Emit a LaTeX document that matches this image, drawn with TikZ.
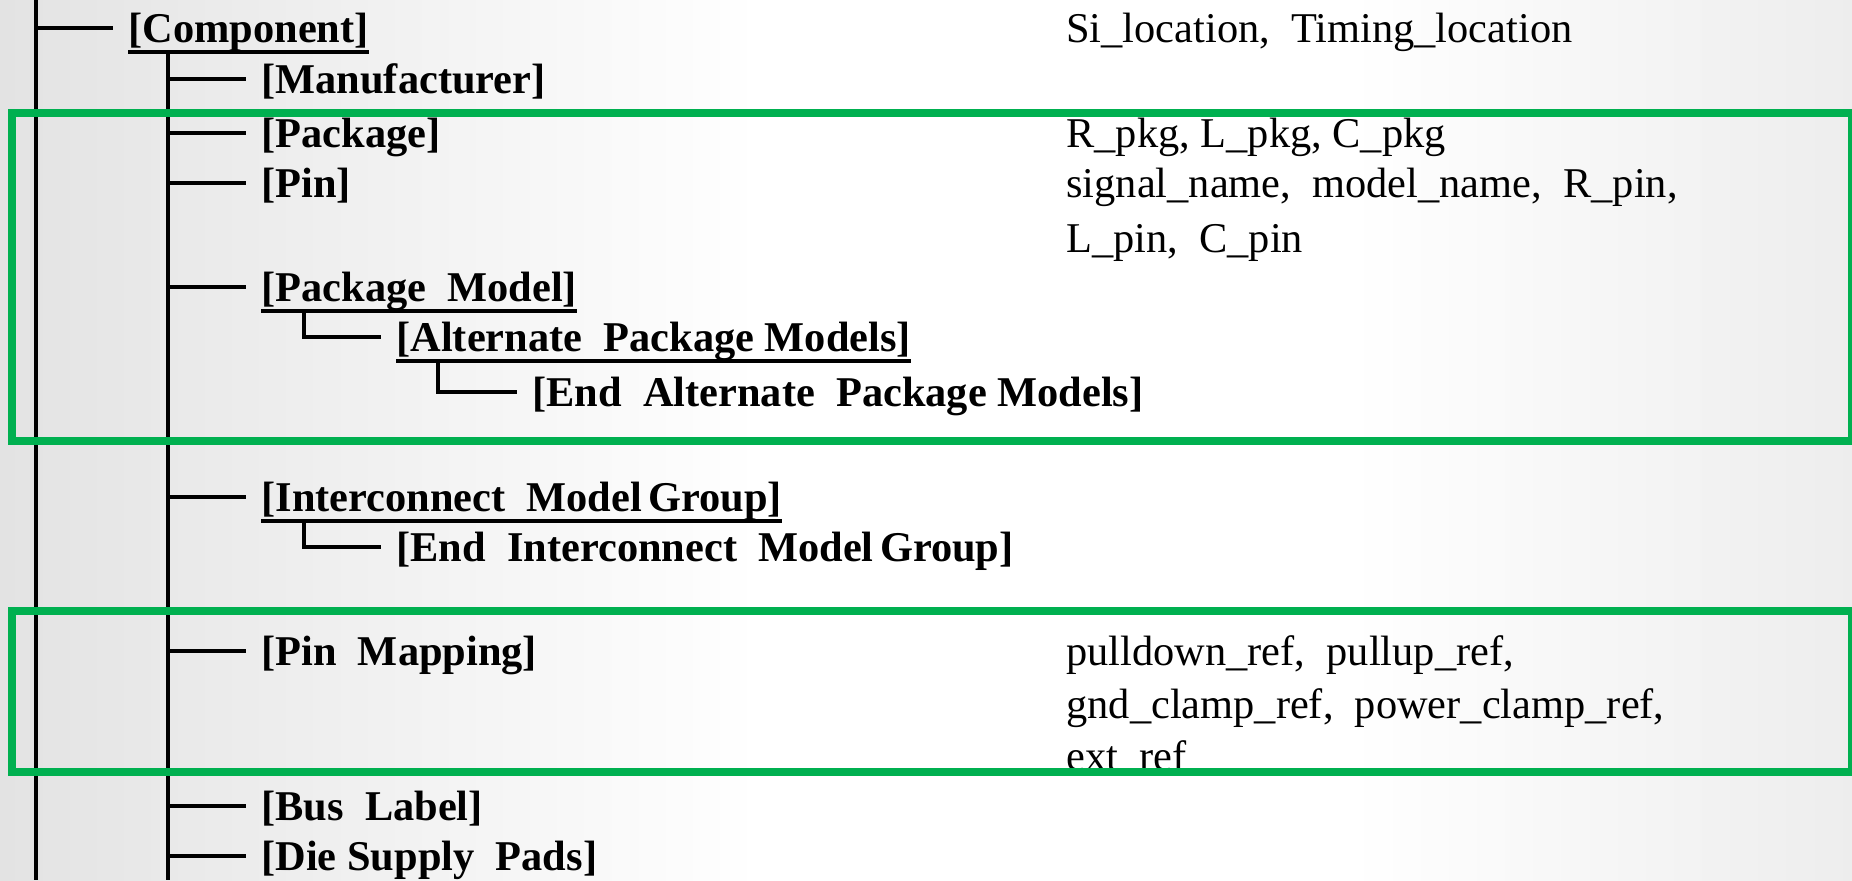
\documentclass[tikz,border=0pt]{standalone}
\usepackage{fontspec}
\setmainfont{Liberation Serif}
\usetikzlibrary{calc}
\definecolor{boxgreen}{RGB}{0,176,80}
\newcommand{\ws}{\hspace{0.5em}} % wide gap between words
\newcommand{\ns}{\hspace{0.15em}} % narrow gap between words

\begin{document}
\begin{tikzpicture}[x=0.5pt,y=-0.5pt,
    key/.style={anchor=west,inner sep=0pt,text height=14pt,text depth=0pt,
      font=\bfseries\fontsize{21.2pt}{26pt}\selectfont},
    attr/.style={anchor=west,inner sep=0pt,text height=14pt,text depth=0pt,
      font=\fontsize{21.2pt}{26pt}\selectfont},
    tree/.style={line width=2pt},
    branch/.style={line width=1.7pt,shorten >=7.5pt},
    uline/.style={line width=2pt},
    hilite/.style={draw=boxgreen,line width=4pt}]
	\useasboundingbox (0,0) rectangle (1852,880);

	%% Background, grey at the edges
	\shade[left color=gray!22,right color=white] (0,0) rectangle (760,880);
	\shade[left color=white,right color=gray!14] (1350,0) rectangle (1852,880);

	%% Spines of the tree (pixel coordinates, y downwards)
	\coordinate (S0) at (36,0); % outer spine top
	\coordinate (S0b) at (36,880); % outer spine bottom
	\coordinate (S1) at (168,54); % spine under [Component]
	\coordinate (S1b) at (168,880);
	\coordinate (H1) at (304,312); % hook under [Package Model]
	\coordinate (H2) at (438,362); % hook under [Alternate ...]
	\coordinate (H3) at (304,519); % hook under [Interconnect ...]

	%% Keywords
	\node[key] (comp) at (128,28) {[Component]};
	\node[key] (manu) at (261,79) {[Manufacturer]};
	\node[key] (pkg) at (261,133) {[Package]};
	\node[key] (pin) at (261,183) {[Pin]};
	\node[key] (pkgmod) at (261,287) {[Package\ws Model]};
	\node[key] (alt) at (396,337) {[Alternate\ws Package Models]};
	\node[key] (endalt) at (532,392) {[End\ws Alternate\ws Package Models]};
	\node[key] (icm) at (261,497) {[Interconnect\ws Model\ns Group]};
	\node[key] (endicm) at (396,547) {[End\ws Interconnect\ws Model\ns Group]};
	\node[key] (pmap) at (261,651) {[Pin\ws Mapping]};
	\node[key] (bus) at (261,806) {[Bus\ws Label]};
	\node[key] (die) at (261,856) {[Die Supply\ws Pads]};

	%% Parameters, right column
	\node[attr] (si) at (1066,28) {Si\_location,\ws Timing\_location};
	\node[attr] (rpkg) at (1066,133) {R\_pkg, L\_pkg, C\_pkg};
	\node[attr] (sig) at (1066,183) {signal\_name,\ws model\_name,\ws R\_pin,};
	\node[attr] (lpin) at (1066,238) {L\_pin,\ws C\_pin};
	\node[attr] (pdown) at (1066,651) {pulldown\_ref,\ws pullup\_ref,};
	\node[attr] (gnd) at (1066,704) {gnd\_clamp\_ref,\ws power\_clamp\_ref,};
	\node[attr] (ext) at (1066,756) {ext\_ref};

	%% Underlined keywords
	\foreach \n in {comp,pkgmod,alt,icm}
	{
	  \draw[uline] ([yshift=-4.75pt]\n.south west) -- ([yshift=-4.75pt]\n.south east);
	}

	%% Tree lines
	\draw[tree] (S0) -- (S0b);
	\draw[tree] (S1) -- (S1b);
	\draw[branch] (S0 |- comp.west) -- (comp.west);
	\foreach \n in {manu,pkg,pin,pkgmod,icm,pmap,bus,die}
	{
	  \draw[branch] (S1 |- \n.west) -- (\n.west);
	}
	\draw[branch] (H1) |- (alt.west);
	\draw[branch] (H2) |- (endalt.west);
	\draw[branch] (H3) |- (endicm.west);

	%% Green frames, right side runs off the page
	\draw[hilite] (12,113) rectangle (1852,441);
	\draw[hilite] (12,611) rectangle (1852,772);
\end{tikzpicture}
\end{document}
